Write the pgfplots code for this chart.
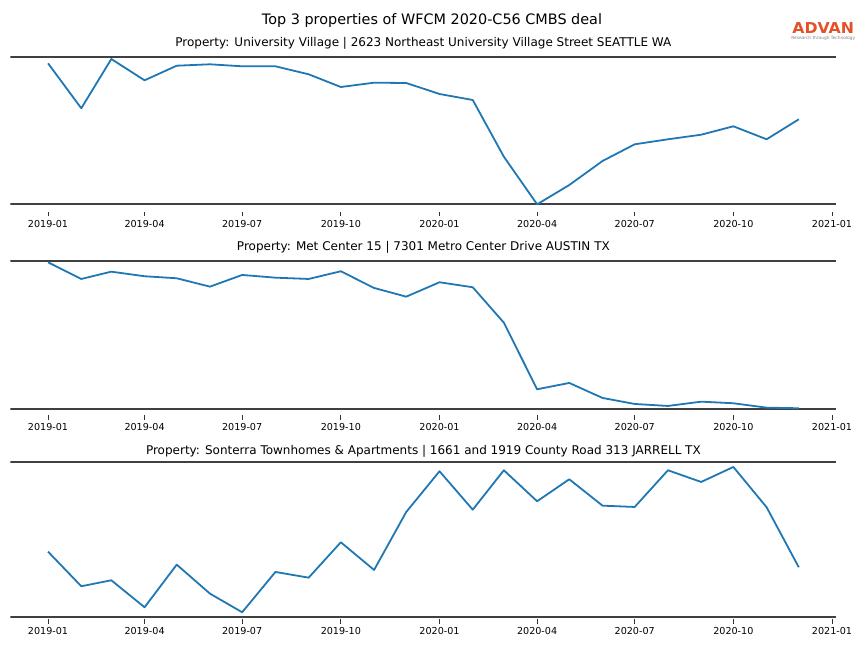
\documentclass[border=0pt]{standalone}
\usepackage{fontspec}
\setmainfont{DejaVu Sans}
\usepackage{pgfplots}
\pgfplotsset{compat=1.18}
\definecolor{mplblue}{HTML}{1F77B4}
\definecolor{spine}{RGB}{64,64,64}
\definecolor{advan}{RGB}{226,82,38}
\pgfplotsset{
  panel/.style={
    anchor=north west,
    scale only axis,
    width=688.2pt, height=133.33pt,
    xmin=-35, xmax=735, ymin=0, ymax=160,
    axis line style={draw=none},
    ytick=\empty,
    xtick={0,90,181,273,365,456,547,639,731},
    xticklabels={2019-01,2019-04,2019-07,2019-10,2020-01,2020-04,2020-07,2020-10,2021-01},
    xtick pos=left,
    tick align=outside,
    major tick length=3.5pt,
    x tick style={black!80, line width=0.6pt},
    xticklabel style={font=\fontsize{8}{9.6}\selectfont},
    every axis title/.style={at={(0.5,1)},anchor=base,yshift=4pt,inner sep=0pt,font=\fontsize{10}{12}\selectfont},
  },
  dataline/.style={mplblue, line width=1.5pt, line join=round},
  hline/.style={spine, line width=1.6pt, forget plot},
}
\begin{document}
\begin{tikzpicture}
\useasboundingbox (0,0) rectangle (720pt,-540pt);
\node[anchor=base, font=\fontsize{12}{14.4}\selectfont] at (360pt,-20.2pt) {Top 3 properties of WFCM 2020-C56 CMBS deal};
\node[anchor=base, inner sep=0pt, text=advan, font=\bfseries\fontsize{12.5}{14}\selectfont] at (686pt,-28.0pt) {\scalebox{1.05}[1]{ADVAN}};
\node[anchor=base, inner sep=0pt, text=gray, font=\fontsize{3.6}{4}\selectfont] at (686pt,-32.8pt) {Research through Technology};

% Panel 1
\begin{axis}[panel, at={(8.75pt,-43.0pt)},
  title={Property: University Village | 2623 Northeast University Village Street SEATTLE WA}]
\addplot[hline] coordinates {(-35,154.9) (735,154.9)};
\addplot[hline] coordinates {(-35,7.3) (735,7.3)};
\addplot[dataline] coordinates {
(0,148.3) (31,103.3) (59,152.6) (90,131.3) (120,145.9) (151,147.3) (181,145.3) (212,145.3)
(243,137.3) (273,124.6) (304,128.9) (334,128.6) (365,117.6) (396,111.6) (425,54.9) (456,7.3)
(486,26.6) (517,50.6) (547,67.3) (578,72.3) (609,76.9) (639,85.3) (670,72.3) (700,92.3)};
\end{axis}

% Panel 2
\begin{axis}[panel, at={(8.75pt,-212.8pt)},
  title={Property: Met Center 15 | 7301 Metro Center Drive AUSTIN TX}]
\addplot[hline] coordinates {(-35,154.7) (735,154.7)};
\addplot[hline] coordinates {(-35,6.7) (735,6.7)};
\addplot[dataline] coordinates {
(0,153.1) (31,136.4) (59,143.7) (90,139.1) (120,137.1) (151,128.7) (181,140.4) (212,137.7)
(243,136.4) (273,144.1) (304,127.4) (334,118.7) (365,133.1) (396,128.1) (425,92.7) (456,26.1)
(486,32.4) (517,17.4) (547,11.4) (578,9.4) (609,13.7) (639,12.1) (670,7.7) (700,7.1)};
\end{axis}

% Panel 3
\begin{axis}[panel, at={(8.75pt,-382.8pt)},
  title={Property: Sonterra Townhomes \& Apartments | 1661 and 1919 County Road 313 JARRELL TX}]
\addplot[hline] coordinates {(-35,157.4) (735,157.4)};
\addplot[hline] coordinates {(-35,2.7) (735,2.7)};
\addplot[dataline] coordinates {
(0,67.7) (31,33.1) (59,39.1) (90,12.1) (120,54.7) (151,25.7) (181,7.1) (212,47.4)
(243,41.7) (273,77.1) (304,49.4) (334,107.4) (365,148.1) (396,109.7) (425,149.1) (456,118.1)
(486,140.1) (517,113.7) (547,112.4) (578,149.1) (609,137.4) (639,152.4) (670,112.1) (700,52.1)};
\end{axis}
\end{tikzpicture}
\end{document}
